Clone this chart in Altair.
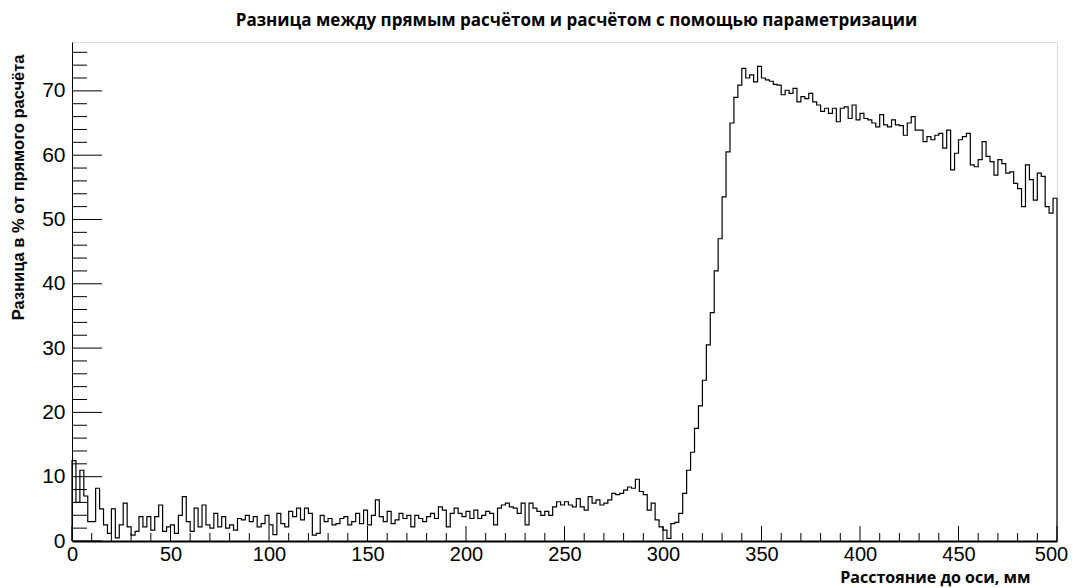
import altair as alt
import pandas as pd

# Histogram: 250 bins of 2 mm from 0 to 500 mm
bin_width = 2.0
x_max = 500.0

values_0_100 = [12.5, 6.0, 11.0, 7.0, 3.0, 3.0, 8.2, 5.0, 2.5, 1.2,
                5.0, 0.5, 2.5, 5.9, 2.2, 0.9, 1.5, 3.8, 2.2, 3.8,
                1.7, 3.8, 5.6, 1.5, 2.2, 2.5, 1.2, 4.0, 6.9, 3.0,
                1.5, 5.1, 2.2, 5.6, 2.5, 2.0, 4.3, 2.2, 3.8, 2.0,
                2.5, 1.7, 3.5, 3.3, 4.0, 3.0, 3.8, 2.2, 2.7, 4.0]
values_100_200 = [2.5, 1.0, 4.3, 2.7, 2.2, 4.6, 3.8, 5.1, 3.3, 5.1,
                  4.3, 0.9, 1.2, 4.0, 3.0, 3.5, 2.5, 2.7, 3.5, 3.8,
                  2.5, 3.0, 4.3, 2.7, 4.8, 2.5, 4.0, 6.4, 3.8, 3.0,
                  4.6, 2.7, 3.3, 4.3, 3.5, 4.0, 2.2, 4.0, 3.5, 3.0,
                  3.8, 4.3, 3.5, 5.3, 4.8, 2.2, 4.3, 5.1, 4.3, 3.8]
values_200_280 = [4.6, 3.5, 4.8, 3.5, 4.0, 4.6, 4.3, 2.5, 5.1, 5.6,
                  5.9, 5.3, 5.1, 4.3, 5.9, 2.5, 5.9, 5.1, 4.6, 4.0,
                  4.6, 4.0, 5.3, 6.1, 5.6, 6.1, 5.6, 5.3, 6.6, 5.3,
                  4.8, 6.9, 5.9, 6.4, 5.6, 5.9, 6.4, 7.4, 7.2, 7.4]
values_280_340 = [7.9, 8.4, 8.2, 9.6, 7.7, 7.2, 4.8, 5.9, 3.3, 2.2,
                  1.7, 0.4, 2.7, 2.9, 4.3, 7.4, 11.0, 13.8, 17.5, 21.0,
                  25.0, 30.5, 35.5, 42.0, 47.0, 53.5, 60.5, 65.0, 69.0, 70.9]
values_340_420 = [73.5, 72.0, 72.5, 71.4, 73.8, 72.0, 71.7, 71.5, 71.0, 70.9,
                  69.4, 70.1, 69.6, 70.4, 68.3, 69.1, 68.8, 69.6, 68.3, 67.8,
                  66.8, 67.3, 66.5, 67.3, 65.2, 67.3, 67.5, 65.7, 67.8, 65.5,
                  66.5, 65.7, 65.5, 65.0, 64.4, 66.3, 64.7, 64.4, 65.5, 64.7]
values_420_500 = [64.6, 63.1, 65.0, 66.0, 63.9, 63.9, 62.1, 62.9, 62.4, 63.1,
                  63.4, 61.1, 63.9, 57.7, 60.3, 62.4, 62.9, 63.4, 58.5, 58.2,
                  59.3, 62.1, 59.8, 59.0, 56.9, 59.3, 58.7, 57.2, 57.4, 55.6,
                  54.8, 52.0, 58.5, 56.2, 53.0, 57.2, 56.7, 52.0, 51.0, 53.3]

values = (values_0_100 + values_100_200 + values_200_280 + values_280_340
          + values_340_420 + values_420_500)

y_major = [0, 10, 20, 30, 40, 50, 60, 70]
y_minor = [v for v in range(2, 77, 2) if v % 10 != 0]
x_major = [0, 50, 100, 150, 200, 250, 300, 350, 400, 450, 500]
x_minor = [v for v in range(10, 500, 10) if v % 50 != 0]

title_text = "Разница между прямым расчётом и расчётом с помощью параметризации"
x_title = "Расстояние до оси, мм"
y_title = "Разница в % от прямого расчёта"

# Step outline table (closed down to zero at both ends like a ROOT histogram)
edges = [i * bin_width for i in range(len(values))]
xs = [0.0] + edges + [x_max, x_max]
ys = [0.0] + values + [values[-1], 0.0]
df = pd.DataFrame({"x": xs, "y": ys, "i": list(range(len(xs)))})

W, H = 985, 499
xscale = alt.Scale(domain=[0, 500], nice=False, zero=False)
yscale = alt.Scale(domain=[0, 77.6], nice=False, zero=False)

x_axis = alt.Axis(values=x_major, ticks=False, grid=False, domain=True,
                  domainColor="black", domainWidth=2,
                  labelFont="Liberation Sans", labelFontSize=20, labelColor="black",
                  labelPadding=3, labelFlush=False, labelOverlap=False, labelBound=False,
                  labelOffset={"condition": {"test": "datum.value == 500", "value": -6}, "value": 0},
                  format="d",
                  title=x_title, titleFont="Open Sans", titleFontWeight="bold",
                  titleFontSize=16, titleColor="black", titleAlign="right",
                  titleBaseline="middle", titleX=958, titleY=36)
y_axis = alt.Axis(values=y_major, ticks=False, grid=False, domain=True,
                  domainColor="black", domainWidth=1,
                  labelFont="Liberation Sans", labelFontSize=21, labelColor="black",
                  labelPadding=7, labelFlush=False, labelOverlap=False, labelBound=False,
                  format="d",
                  title=y_title, titleFont="Liberation Sans", titleFontWeight="bold",
                  titleFontSize=16.5, titleColor="black", titleAngle=-90,
                  titleAlign="right", titleBaseline="middle", titleX=-54, titleY=12)

line = alt.Chart(df).mark_line(interpolate="step-after", color="black",
                               strokeWidth=1.2).encode(
    x=alt.X("x:Q", scale=xscale, axis=x_axis),
    y=alt.Y("y:Q", scale=yscale, axis=y_axis),
    order="i:Q",
)

ym = alt.Chart(pd.DataFrame({"v": y_major})).mark_rule(color="black", strokeWidth=1).encode(
    y=alt.Y("v:Q", scale=yscale, axis=y_axis), x=alt.value(0), x2=alt.value(30))
yn = alt.Chart(pd.DataFrame({"v": y_minor})).mark_rule(color="black", strokeWidth=1).encode(
    y=alt.Y("v:Q", scale=yscale, axis=y_axis), x=alt.value(0), x2=alt.value(15))
xm = alt.Chart(pd.DataFrame({"v": x_major})).mark_rule(color="black", strokeWidth=1).encode(
    x=alt.X("v:Q", scale=xscale, axis=x_axis), y=alt.value(H), y2=alt.value(H - 15))
xn = alt.Chart(pd.DataFrame({"v": x_minor})).mark_rule(color="black", strokeWidth=1).encode(
    x=alt.X("v:Q", scale=xscale, axis=x_axis), y=alt.value(H), y2=alt.value(H - 8))

chart = alt.layer(line, ym, yn, xm, xn).properties(
    width=W, height=H,
    title=alt.TitleParams(title_text, font="Open Sans", fontSize=17, fontWeight="bold",
                          color="black", anchor="middle", dx=12, offset=12),
    autosize=alt.AutoSizeParams(type="none"),
    padding={"left": 64, "top": 34, "right": 11, "bottom": 46},
).configure_view(stroke="#7f7f7f", strokeWidth=1).configure(background="white")

chart.save("out.html", embed_options={"renderer": "svg", "actions": False})
